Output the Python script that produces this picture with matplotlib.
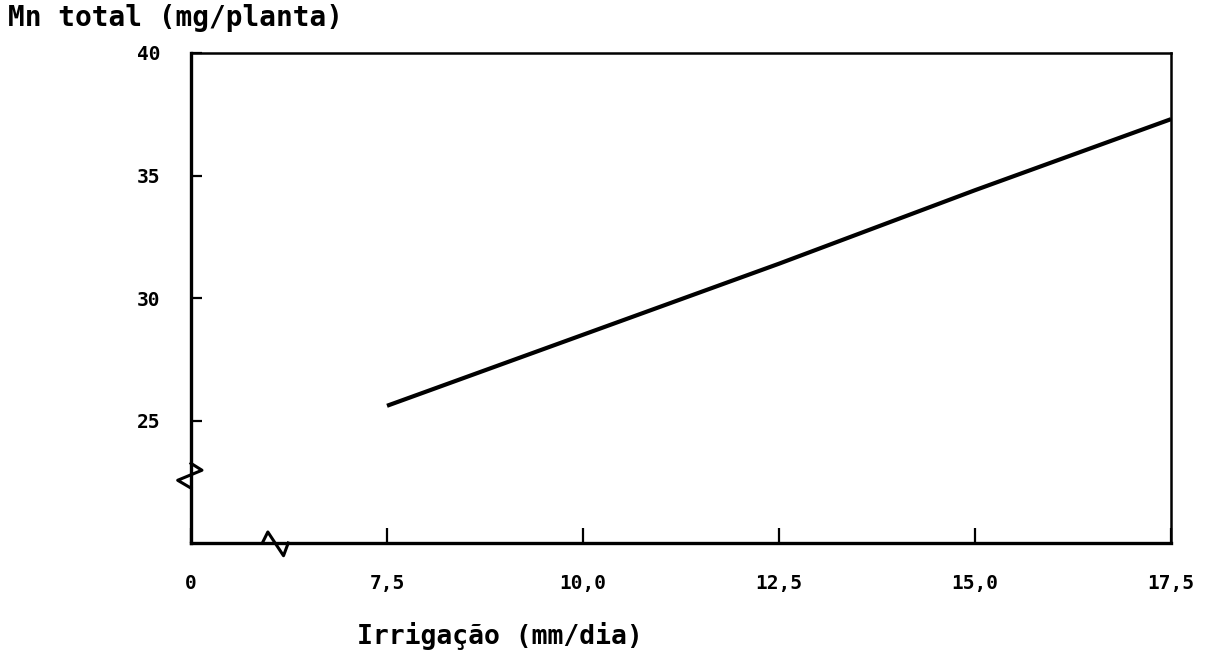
import numpy as np
import matplotlib
matplotlib.use("Agg")
import matplotlib.pyplot as plt

# ---------------------------------------------------------------------
# data
irrigacao = [7.5, 10.0, 12.5, 15.0, 17.5]      # mm/dia
mn_total = [25.6, 28.5, 31.4, 34.4, 37.3]       # mg/planta

x_ticks = [5.0, 7.5, 10.0, 12.5, 15.0, 17.5]
x_tick_labels = ["0", "7,5", "10,0", "12,5", "15,0", "17,5"]
y_ticks = [25, 30, 35, 40]
y_tick_labels = ["25", "30", "35", "40"]

# ---------------------------------------------------------------------
plt.rcParams["font.family"] = ["DejaVu Sans Mono"]
plt.rcParams["font.weight"] = "bold"

fig = plt.figure(figsize=(12.12, 6.5), dpi=100)
ax = fig.add_axes([191 / 1212, 1 - 543 / 650, (1171 - 191) / 1212, (543 - 53) / 650])

ax.plot(irrigacao, mn_total, color="black", lw=3.0, solid_capstyle="butt")

ax.set_xlim(5.0, 17.5)
ax.set_ylim(20, 40)
ax.set_xticks(x_ticks)
ax.set_xticklabels(x_tick_labels, fontsize=14, fontweight="bold")
ax.set_yticks(y_ticks)
ax.set_yticklabels(y_tick_labels, fontsize=14, fontweight="bold")
ax.tick_params(axis="x", direction="in", length=11, width=1.6, pad=22)
ax.tick_params(axis="y", direction="in", length=8, width=1.6, pad=22)

for side in ["left", "bottom"]:
    ax.spines[side].set_linewidth(2.4)
for side in ["top", "right"]:
    ax.spines[side].set_linewidth(1.8)

# axis break marks (small zig-zags on both axes)
xb = 6.07
ax.plot([xb - 0.16, xb - 0.09, xb + 0.11, xb + 0.17],
        [20, 20.45, 19.48, 20], color="black", lw=2.2, clip_on=False)
ax.plot([5.0, 4.83, 5.14, 5.0], [22.24, 22.56, 22.97, 23.25],
        color="black", lw=2.2, clip_on=False)

fig.text(8 / 1212, 1 - 18 / 650, "Mn total (mg/planta)", fontsize=20,
         fontweight="bold", ha="left", va="center")
fig.text(500 / 1212, 1 - 636 / 650, "Irrigação (mm/dia)", fontsize=19,
         fontweight="bold", ha="center", va="center")

fig.savefig("out.png", dpi=100)
